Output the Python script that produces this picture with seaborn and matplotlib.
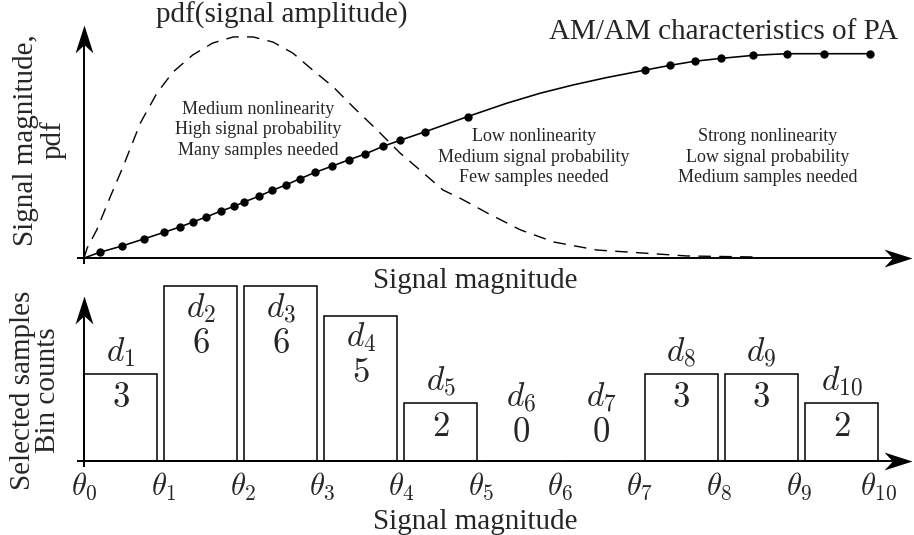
import numpy as np
import pandas as pd
import matplotlib
matplotlib.use("Agg")
import matplotlib.pyplot as plt
import seaborn as sns
from matplotlib.path import Path

# ---------------- data ----------------
# AM/AM characteristic of the PA (solid line)
amam_line_x = [0.0, 0.20, 0.48, 0.76, 1.01, 1.21, 1.37, 1.54, 1.72, 1.89, 2.01, 2.20,
               2.37, 2.54, 2.72, 2.91, 3.12, 3.34, 3.54, 3.77, 3.98, 4.29, 4.83, 5.32,
               5.74, 6.16, 6.58, 7.07, 7.38, 7.69, 8.02, 8.43, 8.85, 9.32, 9.90]
amam_line_y = [0.0, 0.028, 0.059, 0.094, 0.126, 0.152, 0.176, 0.201, 0.229, 0.253, 0.273,
               0.302, 0.331, 0.357, 0.388, 0.419, 0.449, 0.481, 0.509, 0.547, 0.576, 0.617,
               0.692, 0.757, 0.806, 0.847, 0.883, 0.920, 0.943, 0.963, 0.977, 0.992, 1.000,
               1.000, 1.000]
# selected samples (dots on the AM/AM curve)
sample_x = [0.20, 0.48, 0.76, 1.01, 1.21, 1.37, 1.54, 1.72, 1.89, 2.01, 2.20, 2.37, 2.54,
            2.72, 2.91, 3.12, 3.34, 3.54, 3.77, 3.98, 4.29, 4.83, 7.07, 7.38, 7.69, 8.02,
            8.43, 8.85, 9.32, 9.90]
sample_y = [0.028, 0.059, 0.094, 0.126, 0.152, 0.176, 0.201, 0.229, 0.253, 0.273, 0.302,
            0.331, 0.357, 0.388, 0.419, 0.449, 0.481, 0.509, 0.547, 0.576, 0.617, 0.692,
            0.920, 0.943, 0.963, 0.977, 0.992, 1.000, 1.000, 1.000]
# pdf of the signal amplitude (dashed line)
pdf_x = [0.0, 0.04, 0.16, 0.33, 0.49, 0.71, 0.92, 1.12, 1.37, 1.62, 1.88, 2.13, 2.38, 2.63,
         2.88, 3.14, 3.39, 3.69, 3.98, 4.23, 4.52, 4.75, 5.08, 5.50, 5.92, 6.46, 7.05,
         7.59, 8.44]
pdf_y = [0.0, 0.049, 0.137, 0.299, 0.445, 0.661, 0.808, 0.910, 0.994, 1.052, 1.082, 1.082,
         1.057, 1.003, 0.920, 0.837, 0.739, 0.627, 0.514, 0.431, 0.333, 0.290, 0.220,
         0.137, 0.078, 0.039, 0.024, 0.010, 0.005]

# histogram of selected samples
bin_labels = [r"$d_{1}$", r"$d_{2}$", r"$d_{3}$", r"$d_{4}$", r"$d_{5}$",
              r"$d_{6}$", r"$d_{7}$", r"$d_{8}$", r"$d_{9}$", r"$d_{10}$"]
bin_counts = [3, 6, 6, 5, 2, 0, 0, 3, 3, 2]
theta_labels = [r"$\theta_{%d}$" % i for i in range(11)]

region_texts = ["Medium nonlinearity\nHigh signal probability\nMany samples needed",
                "Low nonlinearity\nMedium signal probability\nFew samples needed",
                "Strong nonlinearity\nLow signal probability\nMedium samples needed"]

# ---------------- style ----------------
sns.set_theme(style="white")
plt.rcParams["font.family"] = ["Liberation Serif", "DejaVu Serif"]
plt.rcParams["mathtext.fontset"] = "cm"

W, H = 914, 535
fig = plt.figure(figsize=(W / 100, H / 100), dpi=100)
fig.patch.set_facecolor("white")

def fx(px):
    return px / W

def fy(py):
    return 1 - py / H

# layout in pixels
X0, XU = 84.0, 79.4          # x origin and px per theta unit
TOP_Y0, TOP_YU = 258.0, 204.3
BOT_Y0, BOT_YU = 461.0, 29.1
LEFT_PX, RIGHT_PX = 70.0, 914.0

def xl(px):
    return (px - X0) / XU

ax_top = fig.add_axes([fx(LEFT_PX), fy(270), (RIGHT_PX - LEFT_PX) / W, 250 / H])
ax_bot = fig.add_axes([fx(LEFT_PX), fy(475), (RIGHT_PX - LEFT_PX) / W, 190 / H])
ax_top.set_xlim(xl(LEFT_PX), xl(RIGHT_PX))
ax_bot.set_xlim(xl(LEFT_PX), xl(RIGHT_PX))
ax_top.set_ylim((TOP_Y0 - 270) / TOP_YU, (TOP_Y0 - 20) / TOP_YU)
ax_bot.set_ylim((BOT_Y0 - 475) / BOT_YU, (BOT_Y0 - 285) / BOT_YU)

for ax in (ax_top, ax_bot):
    for s in ax.spines.values():
        s.set_visible(False)
    ax.set_facecolor("none")
    ax.set_yticks([])
ax_top.set_xticks([])

# stealth-like arrow heads (tip at the marker position)
right_arrow = Path([(0, 0), (-1, 0.32), (-0.7, 0), (-1, -0.32), (0, 0)],
                   [Path.MOVETO, Path.LINETO, Path.LINETO, Path.LINETO, Path.CLOSEPOLY])
up_arrow = Path([(0, 0), (0.32, -1), (0, -0.7), (-0.32, -1), (0, 0)],
                [Path.MOVETO, Path.LINETO, Path.LINETO, Path.LINETO, Path.CLOSEPOLY])
ARROW_LEN = 28  # px
MS = 2 * ARROW_LEN * 0.72
AX_LW = 1.4

def draw_axes(ax, y0, yu, ybottom_px, ytip_px):
    x_start = xl(77)
    x_tip = xl(912)
    ax.plot([x_start, x_tip - 17 / XU], [0, 0], color="black", lw=AX_LW,
            solid_capstyle="butt", clip_on=False, zorder=5)
    ax.plot([x_tip], [0], marker=right_arrow, ms=MS, color="black", mew=0,
            clip_on=False, zorder=6)
    yb = (y0 - ybottom_px) / yu
    yt = (y0 - ytip_px) / yu
    ax.plot([0, 0], [yb, yt - 17 / yu], color="black", lw=AX_LW,
            solid_capstyle="butt", clip_on=False, zorder=5)
    ax.plot([0], [yt], marker=up_arrow, ms=MS, color="black", mew=0,
            clip_on=False, zorder=6)

draw_axes(ax_top, TOP_Y0, TOP_YU, 264, 25)
draw_axes(ax_bot, BOT_Y0, BOT_YU, 467, 296)

# ---------------- top panel ----------------
sns.lineplot(x=pdf_x, y=pdf_y, ax=ax_top, color="black", lw=1.0,
             linestyle=(0, (9.0, 6.0)), sort=False, estimator=None, zorder=3)
sns.lineplot(x=amam_line_x, y=amam_line_y, ax=ax_top, color="black", lw=1.15,
             sort=False, estimator=None, zorder=3)
sns.scatterplot(x=sample_x, y=sample_y, ax=ax_top, color="black", s=36,
                linewidth=0, zorder=4)
ax_top.set_xlabel("")
ax_top.set_ylabel("")

fig.text(fx(282), fy(15), "pdf(signal amplitude)", ha="center", va="center", fontsize=21)
fig.text(fx(724), fy(32), "AM/AM characteristics of PA", ha="center", va="center",
         fontsize=21)
for (cx, cy), txt in zip([(258, 130), (534, 157), (768, 157)], region_texts):
    fig.text(fx(cx), fy(cy), txt, ha="center", va="center", fontsize=13,
             linespacing=1.25, multialignment="center")

fig.text(fx(475), fy(281), "Signal magnitude", ha="center", va="center", fontsize=21)
fig.text(fx(40), fy(140), "Signal magnitude,\npdf", ha="center", va="center",
         rotation=90, fontsize=21, linespacing=1.05, multialignment="center")

# ---------------- bottom panel ----------------
n_bins = len(bin_counts)
bar_w = 0.92
gap = (n_bins - n_bins * bar_w) / (n_bins - 1)
centers = [k * (bar_w + gap) + bar_w / 2 for k in range(n_bins)]
bar_df = pd.DataFrame({"pos": centers, "count": bin_counts})
sns.barplot(data=bar_df, x="pos", y="count", native_scale=True,
            width=bar_w / (bar_w + gap), color="white", saturation=1,
            edgecolor="black", linewidth=1.1, errorbar=None, ax=ax_bot, zorder=2)
ax_bot.set_xlim(xl(LEFT_PX), xl(RIGHT_PX))
ax_bot.set_ylim((BOT_Y0 - 475) / BOT_YU, (BOT_Y0 - 285) / BOT_YU)
ax_bot.set_xlabel("")
ax_bot.set_ylabel("")

for c, n, lab in zip(centers, bin_counts, bin_labels):
    if n >= 5:
        off_d, off_n = -22, -58
    elif n > 0:
        off_d, off_n = 22, -25
    else:
        off_d, off_n = 64, 28
    ax_bot.annotate(lab, xy=(c, n), xytext=(0, off_d), textcoords="offset pixels",
                    ha="center", va="center", fontsize=24)
    ax_bot.annotate(r"$%d$" % n, xy=(c, n), xytext=(0, off_n), textcoords="offset pixels",
                    ha="center", va="center", fontsize=25)

ax_bot.set_xticks(range(len(theta_labels)))
ax_bot.set_xticklabels(theta_labels, fontsize=22)
ax_bot.tick_params(axis="x", length=0, pad=-3)

fig.text(fx(475), fy(522), "Signal magnitude", ha="center", va="center", fontsize=21)
fig.text(fx(36), fy(390), "Selected samples\nBin counts", ha="center", va="center",
         rotation=90, fontsize=21, linespacing=0.95, multialignment="center")

fig.savefig("out.png", dpi=100, facecolor="white")
